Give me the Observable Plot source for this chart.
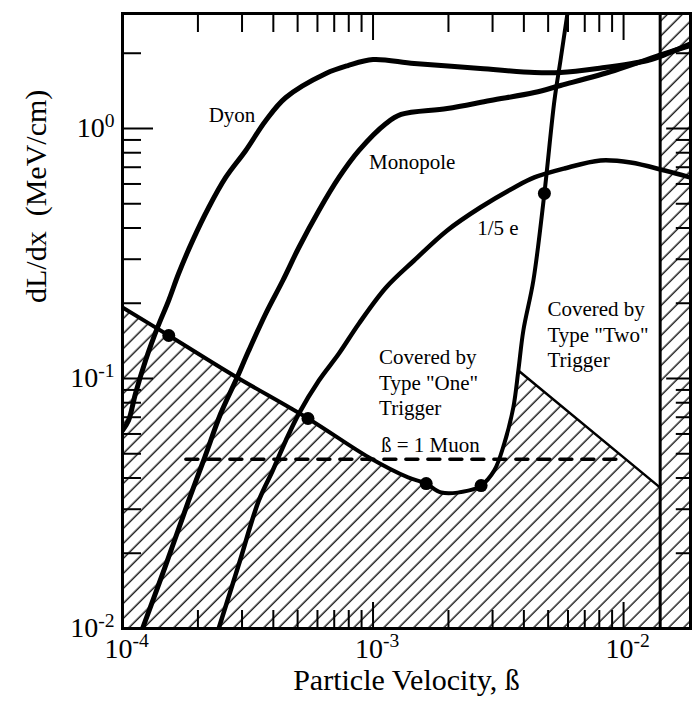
<!DOCTYPE html>
<html>
<head>
<meta charset="utf-8">
<script src="https://cdn.jsdelivr.net/npm/d3@7"></script>
<script src="https://cdn.jsdelivr.net/npm/@observablehq/plot@0.6"></script>
<style>
  html, body { margin: 0; padding: 0; background: #fff; }
  #chart { position: relative; width: 696px; height: 705px; }
  #chart svg { display: block; }
  #chart svg.overlay { position: absolute; left: 0; top: 0; pointer-events: none; }
</style>
</head>
<body>
<svg width="0" height="0" style="position:absolute">
  <defs>
    <pattern id="hatch" patternUnits="userSpaceOnUse" width="10.6" height="10.6" patternTransform="rotate(45)">
      <line x1="5" y1="-1" x2="5" y2="11.6" stroke="#000" stroke-width="1.3"></line>
    </pattern>
  </defs>
</svg>
<div id="chart"></div>
<script>
// ---------- data ----------
const dyonX = [1.0e-4, 1.057e-4, 1.127e-4, 1.236e-4, 1.380e-4, 1.528e-4, 1.675e-4, 1.905e-4, 2.208e-4, 2.582e-4, 3.105e-4, 3.733e-4, 4.487e-4, 6.486e-4, 7.94e-4, 1.0e-3, 1.459e-3, 2.679e-3, 4.406e-3, 5.6e-3, 7.87e-3, 1.247e-2, 1.5e-2, 1.85e-2];
const dyonY = [0.062, 0.0679, 0.0871, 0.118, 0.16, 0.205, 0.263, 0.356, 0.483, 0.637, 0.817, 1.076, 1.33, 1.66, 1.786, 1.888, 1.82, 1.738, 1.675, 1.675, 1.738, 1.871, 1.995, 2.18];

const monopoleX = [1.202e-4, 1.486e-4, 1.837e-4, 2.128e-4, 2.466e-4, 2.831e-4, 3.192e-4, 3.733e-4, 4.365e-4, 5.058e-4, 6.081e-4, 7.311e-4, 8.79e-4, 1.127e-3, 1.294e-3, 1.977e-3, 2.938e-3, 4.406e-3, 5.6e-3, 9.2e-3, 1.459e-2, 1.85e-2];
const monopoleY = [0.01, 0.01786, 0.0325, 0.0483, 0.0724, 0.0982, 0.1294, 0.182, 0.2466, 0.3342, 0.47, 0.637, 0.817, 1.047, 1.138, 1.202, 1.294, 1.393, 1.486, 1.706, 1.995, 2.15];

const fifthX = [2.421e-4, 2.911e-4, 3.5e-4, 3.981e-4, 4.487e-4, 5.058e-4, 6.081e-4, 7.311e-4, 8.79e-4, 1.127e-3, 1.459e-3, 1.977e-3, 2.679e-3, 3.664e-3, 4.406e-3, 5.808e-3, 8.091e-3, 1.067e-2, 1.459e-2, 1.85e-2];
const fifthY = [0.01, 0.018, 0.0325, 0.0429, 0.0565, 0.0724, 0.0982, 0.1259, 0.166, 0.2312, 0.2965, 0.391, 0.483, 0.581, 0.637, 0.692, 0.745, 0.731, 0.679, 0.637];

// Type "One" trigger threshold (lower boundary + steep rise)
const thresholdX = [1.0e-4, 1.53e-4, 2.78e-4, 5.5e-4, 9.638e-4, 1.38e-3, 1.63e-3, 1.871e-3, 2.399e-3, 2.70e-3, 3.048e-3, 3.342e-3, 3.631e-3, 3.802e-3, 3.981e-3, 4.365e-3, 4.83e-3, 5.297e-3, 5.6e-3, 5.97e-3];
const thresholdY = [0.1923, 0.1486, 0.1028, 0.0692, 0.0483, 0.0402, 0.038, 0.035, 0.0356, 0.0373, 0.0429, 0.055, 0.0766, 0.1076, 0.1556, 0.2466, 0.55, 1.294, 1.871, 2.884];

// Type "Two" trigger threshold line
const typeTwoX = [3.802e-3, 1.40e-2];
const typeTwoY = [0.1076, 0.0366];

// hatched (not covered) region top boundary
const hatchX = [1.0e-4, 1.53e-4, 2.78e-4, 5.5e-4, 9.638e-4, 1.38e-3, 1.63e-3, 1.871e-3, 2.399e-3, 2.70e-3, 3.048e-3, 3.342e-3, 3.631e-3, 3.802e-3, 1.40e-2, 1.40e-2, 1.85e-2];
const hatchY = [0.1923, 0.1486, 0.1028, 0.0692, 0.0483, 0.0402, 0.038, 0.035, 0.0356, 0.0373, 0.0429, 0.055, 0.0766, 0.1076, 0.0366, 2.884, 2.884];
const bandEdgeX = [1.40e-2];

const dotX = [1.53e-4, 5.5e-4, 1.63e-3, 2.70e-3, 4.83e-3];
const dotY = [0.1486, 0.0692, 0.038, 0.0373, 0.55];

const muonLevel = 0.0475;
const muonRange = [1.79e-4, 1.01e-2];

const annotationText = ["Dyon", "Monopole", "1/5 e", "Covered by\nType \"One\"\nTrigger", "Covered by\nType \"Two\"\nTrigger", "ß = 1 Muon"];
const annotationX = [2.208e-4, 9.638e-4, 2.606e-3, 1.057e-3, 4.966e-3, 1.076e-3];
const annotationY = [1.148, 0.745, 0.4055, 0.0973, 0.1514, 0.055];

const xMajorTicks = [1e-4, 1e-3, 1e-2];
const xTickExponents = ["-4", "-3", "-2"];
const xMinorTicks = [2e-4, 3e-4, 4e-4, 5e-4, 6e-4, 7e-4, 8e-4, 9e-4, 2e-3, 3e-3, 4e-3, 5e-3, 6e-3, 7e-3, 8e-3, 9e-3];
const yMajorTicks = [1e-2, 1e-1, 1];
const yTickExponents = ["-2", "-1", "0"];
const yMinorTicks = [0.02, 0.03, 0.04, 0.05, 0.06, 0.07, 0.08, 0.09, 0.2, 0.3, 0.4, 0.5, 0.6, 0.7, 0.8, 0.9, 2];

const xLabel = "Particle Velocity, ß";
const yLabel = "dL/dx\u00a0 (MeV/cm)";

const xDomain = [1e-4, 1.85e-2];
const yDomain = [1e-2, 2.884];

// ---------- layout ----------
const W = 696, H = 705;
const mL = 122, mR = 6, mT = 13, mB = 77;
const xTickMinor = 18, xTickMajor = 26, yTickMinor = 19, yTickMajor = 31;

const pts = (xs, ys) => xs.map((x, i) => ({x, y: ys[i]}));
const yBottom = () => yDomain[0];

const common = {
  width: W, height: H,
  marginLeft: mL, marginRight: mR, marginTop: mT, marginBottom: mB,
  x: {type: "log", domain: xDomain, axis: null},
  y: {type: "log", domain: yDomain, axis: null}
};

// main layer: data, hatching and all texts
const svg = Plot.plot({
  ...common,
  style: {fontFamily: "'Liberation Serif', 'Times New Roman', serif", background: "#fff", color: "#000"},
  marks: [
    Plot.areaY(pts(hatchX, hatchY), {x: "x", y1: yBottom, y2: "y", fill: "url(#hatch)", curve: "linear"}),
    Plot.ruleX(bandEdgeX, {x: d => d, stroke: "#000", strokeWidth: 3}),
    Plot.line(pts(typeTwoX, typeTwoY), {x: "x", y: "y", stroke: "#000", strokeWidth: 2.5}),
    Plot.line(pts(thresholdX, thresholdY), {x: "x", y: "y", stroke: "#000", strokeWidth: 4, curve: "catmull-rom", clip: true}),
    Plot.line([{x: muonRange[0], y: muonLevel}, {x: muonRange[1], y: muonLevel}], {x: "x", y: "y", stroke: "#000", strokeWidth: 3.5, strokeDasharray: "12,10"}),
    Plot.line(pts(dyonX, dyonY), {x: "x", y: "y", stroke: "#000", strokeWidth: 5, curve: "catmull-rom", clip: true}),
    Plot.line(pts(monopoleX, monopoleY), {x: "x", y: "y", stroke: "#000", strokeWidth: 5, curve: "catmull-rom", clip: true}),
    Plot.line(pts(fifthX, fifthY), {x: "x", y: "y", stroke: "#000", strokeWidth: 4.5, curve: "catmull-rom", clip: true}),
    Plot.dot(pts(dotX, dotY), {x: "x", y: "y", r: 6.5, fill: "#000", stroke: "none"}),
    Plot.text(xMajorTicks, {x: d => d, frameAnchor: "bottom", text: (d, i) => "10^" + xTickExponents[i], textAnchor: "start", dx: -18, dy: 29, fontSize: 28}),
    Plot.text(yMajorTicks, {y: d => d, frameAnchor: "left", text: (d, i) => "10^" + yTickExponents[i], textAnchor: "end", dx: -8, fontSize: 28}),
    Plot.text([xLabel], {frameAnchor: "bottom", text: d => d, dy: 61, fontSize: 30}),
    Plot.text([yLabel], {frameAnchor: "left", text: d => d, rotate: -90, dx: -86, dy: -18, fontSize: 30}),
    Plot.text(annotationText, {x: (d, i) => annotationX[i], y: (d, i) => annotationY[i], text: d => d, textAnchor: "start", lineAnchor: "middle", lineHeight: 1.21, fontSize: 21})
  ]
});

// superscripts for power-of-ten labels
d3.select(svg).selectAll("text").each(function () {
  const s = this.textContent;
  const k = s.indexOf("^");
  if (k < 0) return;
  const t = d3.select(this);
  t.text(s.slice(0, k));
  t.append("tspan").attr("dy", "-0.55em").attr("font-size", "0.7em").text(s.slice(k + 1));
});

// overlay layer: inward axis ticks on all four sides (library axes, no text) and the frame
const tickOpts = (len) => ({tickSize: -len, fill: "none", label: null, stroke: "#000", strokeWidth: 2});
let overlay;
try {
  overlay = Plot.plot({
    ...common,
    marks: [
      Plot.axisX(xMinorTicks, {anchor: "bottom", ...tickOpts(xTickMinor)}),
      Plot.axisX(xMajorTicks, {anchor: "bottom", ...tickOpts(xTickMajor)}),
      Plot.axisX(xMinorTicks, {anchor: "top", ...tickOpts(xTickMinor)}),
      Plot.axisX(xMajorTicks, {anchor: "top", ...tickOpts(xTickMajor)}),
      Plot.axisY(yMinorTicks, {anchor: "left", ...tickOpts(yTickMinor)}),
      Plot.axisY(yMajorTicks, {anchor: "left", ...tickOpts(yTickMajor)}),
      Plot.axisY(yMinorTicks, {anchor: "right", ...tickOpts(yTickMinor * 0.8)}),
      Plot.axisY(yMajorTicks, {anchor: "right", ...tickOpts(yTickMajor * 0.8)}),
      Plot.frame({stroke: "#000", strokeWidth: 3})
    ]
  });
} catch (e) {
  overlay = Plot.plot({...common, marks: [Plot.frame({stroke: "#000", strokeWidth: 3})]});
}
overlay.classList.add("overlay");

const chart = document.getElementById("chart");
chart.appendChild(svg);
chart.appendChild(overlay);
</script>
</body>
</html>
